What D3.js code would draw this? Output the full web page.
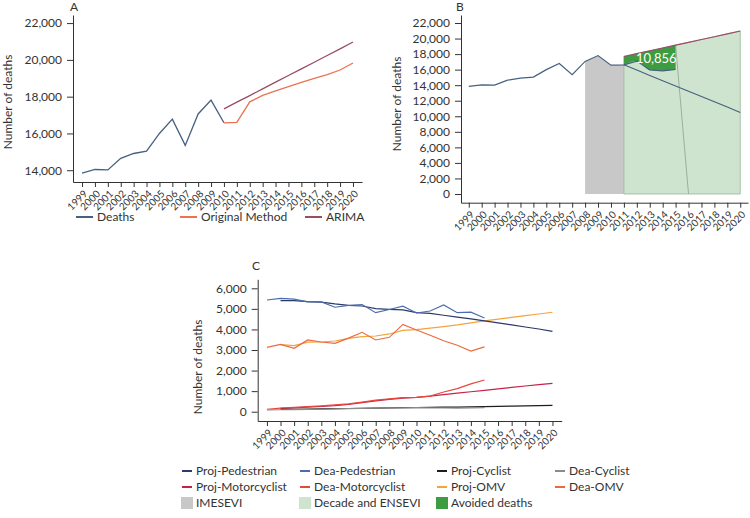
<!DOCTYPE html>
<html><head><meta charset="utf-8">
<script src="https://cdn.jsdelivr.net/npm/d3@7/dist/d3.min.js"></script>
<style>
body{margin:0;background:#fff}
svg text{font-family:Lato,"Open Sans","DejaVu Sans",sans-serif;fill:#333}
.axis path,.axis line{stroke:#333;stroke-width:1}
</style></head><body>
<svg id="c" width="750" height="518"></svg>
<script>
// ---------- data ----------
const years = [1999,2000,2001,2002,2003,2004,2005,2006,2007,2008,2009,2010,2011,2012,2013,2014,2015,2016,2017,2018,2019,2020];
const histYears = [1999,2000,2001,2002,2003,2004,2005,2006,2007,2008,2009,2010];
const deaths = [13840,14040,14020,14650,14910,15040,16000,16780,15350,17060,17810,16580];
const fcYears = [2010,2011,2012,2013,2014,2015,2016,2017,2018,2019,2020];
const originalMethod = [16580,16600,17720,18070,18320,18540,18780,19000,19195,19450,19830];
const arima = [17340,17700,18060,18420,18790,19150,19510,19870,20240,20600,20970];
const recentYears = [2011,2012,2013,2014,2015];
const recentDeaths = [16615,17100,15950,15850,16040];
const goalYears = [2011,2012,2013,2014,2015,2016,2017,2018,2019,2020];
const goal = [16620,15940,15260,14580,13900,13220,12540,11860,11180,10500];
const imeseviYears = [2008,2009,2010,2011];
const ticksA = [14000,16000,18000,20000,22000];
const ticksB = [0,2000,4000,6000,8000,10000,12000,14000,16000,18000,20000,22000];
const ticksC = [0,1000,2000,3000,4000,5000,6000];
const avoidedLabel = "10,856";

const deaYears = [1999,2000,2001,2002,2003,2004,2005,2006,2007,2008,2009,2010,2011,2012,2013,2014,2015];
const projYears = [2000,2001,2002,2003,2004,2005,2006,2007,2008,2009,2010,2011,2012,2013,2014,2015,2016,2017,2018,2019,2020];
const deaPedestrian = [5432,5514,5470,5345,5340,5080,5173,5210,4816,4970,5130,4800,4897,5189,4816,4840,4555];
const projPedestrian = [5400,5400,5350,5330,5240,5170,5140,5010,4980,4950,4820,4780,4690,4600,4510,4420,4320,4220,4120,4020,3910];
const deaOMV = [3130,3270,3080,3490,3390,3325,3580,3860,3488,3617,4245,3975,3720,3450,3230,2950,3150];
const projOMV = [3260,3215,3380,3390,3439,3568,3650,3682,3780,3957,3990,4060,4140,4220,4320,4420,4500,4590,4670,4750,4835];
const deaMotorcyclist = [120,175,210,245,280,330,380,470,560,620,680,700,760,960,1120,1350,1540];
const projMotorcyclist = [165,190,225,260,300,360,440,530,600,660,700,760,830,900,970,1040,1110,1180,1250,1320,1380];
const deaCyclist = [90,95,100,110,120,135,150,165,175,185,190,200,190,180,175,185,195];
const projCyclist = [110,115,125,135,145,155,165,175,185,195,205,210,220,225,235,245,260,270,285,295,310];

const seriesC = [
  {name:"Proj-Pedestrian", yrs:projYears, vals:projPedestrian, color:"#2b3a67"},
  {name:"Dea-Pedestrian", yrs:deaYears, vals:deaPedestrian, color:"#4c6cb0"},
  {name:"Proj-Cyclist", yrs:projYears, vals:projCyclist, color:"#1e1e1e"},
  {name:"Dea-Cyclist", yrs:deaYears, vals:deaCyclist, color:"#8c8c8c"},
  {name:"Proj-Motorcyclist", yrs:projYears, vals:projMotorcyclist, color:"#c4234b"},
  {name:"Dea-Motorcyclist", yrs:deaYears, vals:deaMotorcyclist, color:"#e9473b"},
  {name:"Proj-OMV", yrs:projYears, vals:projOMV, color:"#f4a33d"},
  {name:"Dea-OMV", yrs:deaYears, vals:deaOMV, color:"#ec6b3c"}
];
const areaLegend = [
  {name:"IMESEVI", color:"#c8c8c8"},
  {name:"Decade and ENSEVI", color:"#cfe4cf"},
  {name:"Avoided deaths", color:"#3d9c41"}
];
const colDeaths = "#466080", colOrig = "#ef7150", colArima = "#9a4c61";

// ---------- helpers ----------
const svg = d3.select('#c');
const fmt = d3.format(',');
function pairs(yrs, vals){ return yrs.map((y,i)=>[y,vals[i]]); }
function drawAxes(x, y, ticks, axisY, axisX){
  const gx = svg.append('g').attr('class','axis').attr('transform',`translate(0,${axisY})`)
    .call(d3.axisBottom(x).tickSize(5).tickSizeOuter(0).tickFormat(d=>d));
  gx.selectAll('text').attr('x',0).attr('y',0).attr('dy','0.35em')
    .attr('text-anchor','end').style('font-size','10px')
    .attr('transform','translate(3,10) rotate(-45)');
  const gy = svg.append('g').attr('class','axis').attr('transform',`translate(${axisX},0)`)
    .call(d3.axisLeft(y).tickValues(ticks).tickSize(6).tickSizeOuter(0).tickPadding(5).tickFormat(fmt));
  gy.selectAll('text').style('font-size','12px');
}
function yTitle(xb, yc){
  svg.append('text').attr('transform',`translate(${xb},${yc}) rotate(-90)`)
    .attr('text-anchor','middle').style('font-size','12px').text('Number of deaths');
}
function line(x,y){ return d3.line().x(d=>x(d[0])).y(d=>y(d[1])); }

// ---------- Panel A ----------
const xA = d3.scalePoint().domain(years).range([73,362]).padding(0.7);
const yA = d3.scaleLinear().domain([13360,22440]).range([182,15]);
drawAxes(xA, yA, ticksA, 182, 73);
yTitle(12, 102);
svg.append('text').attr('x',70).attr('y',11).style('font-size','12px').text('A');
const lA = line(xA,yA);
svg.append('path').attr('d',lA(pairs(histYears,deaths))).attr('fill','none').attr('stroke',colDeaths).attr('stroke-width',1.3);
svg.append('path').attr('d',lA(pairs(fcYears,originalMethod))).attr('fill','none').attr('stroke',colOrig).attr('stroke-width',1.3);
svg.append('path').attr('d',lA(pairs(fcYears,arima))).attr('fill','none').attr('stroke',colArima).attr('stroke-width',1.3);
const legA = [{n:"Deaths",c:colDeaths,x:76},{n:"Original Method",c:colOrig,x:180},{n:"ARIMA",c:colArima,x:305}];
legA.forEach(d=>{
  svg.append('line').attr('x1',d.x).attr('x2',d.x+17).attr('y1',217).attr('y2',217).attr('stroke',d.c).attr('stroke-width',2);
  svg.append('text').attr('x',d.x+21).attr('y',217).attr('dy','0.35em').style('font-size','12px').text(d.n);
});

// ---------- Panel B ----------
const xB = d3.scalePoint().domain(years).range([461,748]).padding(0.6);
const yB = d3.scaleLinear().domain([-1120,23030]).range([202.7,15]);
const allDeaths = pairs(histYears,deaths).concat(pairs(recentYears,recentDeaths));
const dMap = new Map(allDeaths);
const aMap = new Map(pairs(fcYears,arima));
svg.append('path').attr('fill','#c8c8c8')
  .attr('d', d3.area().x(d=>xB(d)).y0(yB(0)).y1(d=>yB(dMap.get(d)))(imeseviYears));
svg.append('path').attr('fill','#cfe4cf').attr('stroke','#98b498').attr('stroke-width',0.8)
  .attr('d', d3.area().x(d=>xB(d)).y0(yB(0)).y1(d=>yB(aMap.get(d)))(goalYears));
svg.append('path').attr('fill','#3d9c41')
  .attr('d', d3.area().x(d=>xB(d)).y0(d=>yB(dMap.get(d))).y1(d=>yB(aMap.get(d))).curve(d3.curveMonotoneX)(recentYears));
svg.append('path').attr('fill','none').attr('stroke','#8f9f8f').attr('stroke-width',0.8)
  .attr('d', line(xB,yB)([[2015,aMap.get(2015)],[2016,0]]));
drawAxes(xB, yB, ticksB, 202.7, 461);
yTitle(401, 104);
svg.append('text').attr('x',456).attr('y',11).style('font-size','12px').text('B');
const lB = line(xB,yB);
svg.append('path').attr('d',lB(allDeaths)).attr('fill','none').attr('stroke',colDeaths).attr('stroke-width',1.2);
svg.append('path').attr('d',lB(pairs(goalYears,goal))).attr('fill','none').attr('stroke',colDeaths).attr('stroke-width',1.1);
svg.append('path').attr('d',lB(pairs(goalYears,goalYears.map(y=>aMap.get(y))))).attr('fill','none').attr('stroke',colArima).attr('stroke-width',1.1);
svg.append('text').attr('x',(xB(2013)+xB(2014))/2).attr('y',yB(17460)).attr('dy','0.35em')
  .attr('text-anchor','middle').style('font-size','13px').style('fill','#fff').text(avoidedLabel);

// ---------- Panel C ----------
const xC = d3.scalePoint().domain(years).range([257.7,561.7]).padding(0.68);
const yC = d3.scaleLinear().domain([-452,6438]).range([421,279.3]);
drawAxes(xC, yC, ticksC, 421, 257.7);
yTitle(202, 367);
svg.append('text').attr('x',252).attr('y',270).style('font-size','12px').text('C');
const lC = line(xC,yC);
const drawOrder = [6,7,0,1,4,5,2,3];
drawOrder.forEach(i=>{
  const s = seriesC[i];
  svg.append('path').attr('d',lC(pairs(s.yrs,s.vals))).attr('fill','none').attr('stroke',s.color).attr('stroke-width',1.2);
});
const colX = [182,300,437,555];
const rowY = [471,487,503];
seriesC.forEach((s,i)=>{
  const cx = colX[i%4], cy = rowY[Math.floor(i/4)];
  svg.append('line').attr('x1',cx).attr('x2',cx+10).attr('y1',cy).attr('y2',cy).attr('stroke',s.color).attr('stroke-width',2);
  svg.append('text').attr('x',cx+14).attr('y',cy).attr('dy','0.35em').style('font-size','12px').text(s.name);
});
areaLegend.forEach((s,i)=>{
  const cx = colX[i], cy = rowY[2];
  svg.append('rect').attr('x',cx-1).attr('y',cy-6).attr('width',12).attr('height',12).attr('fill',s.color);
  svg.append('text').attr('x',cx+14).attr('y',cy).attr('dy','0.35em').style('font-size','12px').text(s.name);
});
</script>
</body></html>
